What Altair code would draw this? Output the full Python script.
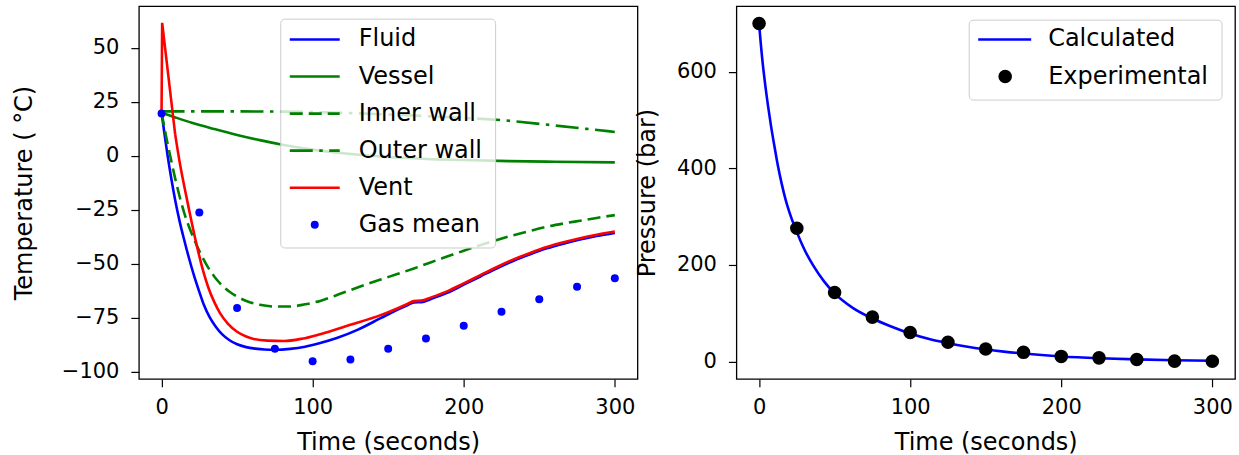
import altair as alt
import pandas as pd

FONT = "DejaVu Sans"
BLUE, GREEN, RED = "#0000ff", "#008000", "#ff0000"
LW = 2.6

# ---------------- temperature panel ----------------
fluid_t = [0, 2, 4, 6.5, 9, 12, 15, 18, 21.5, 25, 28, 32, 36, 40, 45, 50, 56, 62, 68, 75, 85, 95,
           105, 116, 130, 145, 156, 163, 167, 172, 178, 189, 200, 211, 222, 233, 244, 255, 266, 277,
           288, 300]
fluid_T = [20, 9.8, 0, -10.8, -20.5, -30.5, -39, -47, -55.5, -63, -69, -75, -79.3, -82.6, -85.4,
           -87.3, -88.6, -89.3, -89.7, -89.8, -89.4, -88.4, -86.7, -84.4, -80.5, -75.2, -71.3,
           -69.1, -67.9, -67.8, -66.4, -63.5, -59.7, -55.9, -52.1, -48.6, -45.6, -42.9, -40.7,
           -38.8, -37.2, -35.8]

vessel_t = [0, 5, 10, 20, 35, 50, 65, 80, 100, 120, 145, 175, 200, 230, 260, 300]
vessel_T = [20, 18.7, 17.5, 15.2, 12.3, 9.6, 7.2, 5.1, 2.8, 1.1, -0.4, -1.5, -2.0, -2.5, -2.8, -3.1]

inner_t = [0, 3, 6, 9, 12, 15, 18.5, 22, 26, 30, 35, 40, 45, 50, 57, 65, 75, 85, 95, 105, 115,
           125, 135, 145, 156, 167, 178, 189, 200, 211, 222, 233, 244, 255, 266, 277, 288, 300]
inner_T = [20, 9, -1, -10.5, -19, -26.5, -33.5, -39.5, -45.5, -50.8, -56, -60, -63, -65.2, -67.5,
           -69, -69.8, -69.8, -68.8, -67.2, -64.8, -62.2, -59.7, -57.3, -54.8, -52.2, -49.4,
           -46.7, -44, -41.4, -39, -36.8, -34.8, -32.9, -31.4, -30.1, -28.8, -27.5]

outer_t = [0, 50, 100, 130, 160, 190, 226, 260, 300]
outer_T = [20.5, 20.5, 20.2, 19.6, 18.8, 17.8, 16.4, 14.0, 11.0]

# the vent starts with a short spike, then follows a smooth curve
vent_spike_t = [0, 0.4, 9]
vent_spike_T = [20, 61.5, 10]
vent_t = [9, 12, 15, 18.5, 22, 25, 28, 31, 35, 39, 44, 50, 56, 61, 70, 81, 93, 105, 125, 145, 156,
          163, 167, 172, 178, 189, 200, 211, 222, 233, 244, 255, 266, 277, 288, 300]
vent_T = [10, -3, -14, -26, -37.5, -46.5, -54.5, -61.1, -67.9, -73.2, -77.8, -81.5, -83.7, -84.8,
          -85.6, -85.8, -84.7, -82.6, -78.3, -73.8, -70.7, -68.5, -67.3, -67.1, -65.7, -62.8,
          -59.1, -55.3, -51.5, -48.0, -45.0, -42.3, -40.1, -38.2, -36.6, -35.1]

gas_t = [0, 25, 50, 75, 100, 125, 150, 175, 200, 225, 250, 275, 300]
gas_T = [19.5, -26.3, -70.5, -89.4, -95.1, -94.3, -89.4, -84.6, -78.7, -72.2, -66.4, -60.7, -56.7]

# ---------------- pressure panel ----------------
calc_t = [0, 2, 4, 6, 8, 10, 12.5, 15, 17.5, 20, 25, 30, 36, 43, 50, 62, 75, 87, 100, 112, 125,
          137, 150, 162, 175, 187, 200, 225, 250, 275, 300]
calc_p = [700, 630, 575, 528, 486, 449, 405, 368, 336, 310, 268, 232, 198, 166, 141, 111, 89, 73,
          58, 47, 38, 31, 25, 20.5, 16.5, 13.3, 10.5, 6.8, 4.3, 2.7, 1.7]

exp_t = [0, 25, 50, 75, 100, 125, 150, 175, 200, 225, 250, 275, 300]
exp_p = [700, 276, 143, 92, 60, 40, 26, 19, 10.5, 7.6, 4.2, 0.7, 0.5]

temp_labels = ["Fluid", "Vessel", "Inner wall", "Outer wall", "Vent", "Gas mean"]
press_labels = ["Calculated", "Experimental"]


def long_frame(pairs):
    rows = []
    for name, ts, vs in pairs:
        for i, (t, v) in enumerate(zip(ts, vs)):
            rows.append({"series": name, "t": t, "v": v, "idx": i})
    return pd.DataFrame(rows)


temp_df = long_frame([
    ("Fluid", fluid_t, fluid_T),
    ("Vessel", vessel_t, vessel_T),
    ("Inner wall", inner_t, inner_T),
    ("Outer wall", outer_t, outer_T),
    ("Vent spike", vent_spike_t, vent_spike_T),
    ("Vent", vent_t, vent_T),
    ("Gas mean", gas_t, gas_T),
])
press_df = long_frame([
    ("Calculated", calc_t, calc_p),
    ("Experimental", exp_t, exp_p),
])

W, H = 499, 373
one = pd.DataFrame({"k": [0]})

x_axis = alt.Axis(values=[0, 100, 200, 300], title="Time (seconds)", titleX=W / 2, titleY=71,
                  titleBaseline="alphabetic", titleAlign="center")

tx = alt.X("t:Q", scale=alt.Scale(domain=[-15, 315], nice=False, zero=False), axis=x_axis)
ty = alt.Y("v:Q", scale=alt.Scale(domain=[-103.3, 69.2], nice=False, zero=False),
           axis=alt.Axis(values=[-100, -75, -50, -25, 0, 25, 50], title="Temperature ( °C)",
                         titleX=-114, titleY=H / 2, titleAngle=-90, titleBaseline="middle",
                         titleAlign="center", labelExpr="replace(datum.label, '-', '−')"))

px = alt.X("t:Q", scale=alt.Scale(domain=[-15, 315], nice=False, zero=False), axis=x_axis)
py = alt.Y("v:Q", scale=alt.Scale(domain=[-36, 736], nice=False, zero=False),
           axis=alt.Axis(values=[0, 200, 400, 600], title="Pressure (bar)",
                         titleX=-89, titleY=H / 2, titleAngle=-90, titleBaseline="middle",
                         titleAlign="center"))

# line styles: colour, dash pattern
DASHED = [13, 6]
DASHDOT = [23, 6.5, 3.5, 6.5]
temp_styles = {
    "Fluid": (BLUE, None),
    "Vessel": (GREEN, None),
    "Inner wall": (GREEN, DASHED),
    "Outer wall": (GREEN, DASHDOT),
    "Vent": (RED, None),
}


def line(df, name, color, dash, x, y, interp="monotone"):
    kw = dict(color=color, strokeWidth=LW, interpolate=interp, clip=True)
    if dash:
        kw["strokeDash"] = dash
    return (alt.Chart(df).transform_filter(alt.datum.series == name)
            .mark_line(**kw).encode(x=x, y=y, order="idx:Q"))


def points(df, name, color, size, x, y):
    return (alt.Chart(df).transform_filter(alt.datum.series == name)
            .mark_circle(color=color, size=size, opacity=1, clip=True).encode(x=x, y=y))


temp_layers = [
    line(temp_df, "Fluid", BLUE, None, tx, ty),
    line(temp_df, "Vessel", GREEN, None, tx, ty),
    line(temp_df, "Inner wall", GREEN, DASHED, tx, ty),
    line(temp_df, "Outer wall", GREEN, DASHDOT, tx, ty),
    line(temp_df, "Vent spike", RED, None, tx, ty, interp="linear"),
    line(temp_df, "Vent", RED, None, tx, ty),
    points(temp_df, "Gas mean", BLUE, 64, tx, ty),
]

# legend box for the temperature panel
temp_layers.append(
    alt.Chart(one).mark_rect(fill="white", fillOpacity=0.8, stroke="#cccccc", strokeWidth=1,
                             cornerRadius=4)
    .encode(x=alt.value(142), x2=alt.value(357), y=alt.value(13), y2=alt.value(242))
)
for i, name in enumerate(temp_labels):
    yy = 33.3 + i * 37.1
    if name in temp_styles:
        color, dash = temp_styles[name]
        kw = dict(color=color, strokeWidth=LW)
        if dash:
            kw["strokeDash"] = dash
        temp_layers.append(alt.Chart(one).mark_rule(**kw).encode(
            x=alt.value(151), x2=alt.value(201), y=alt.value(yy)))
    else:
        temp_layers.append(alt.Chart(one).mark_circle(color=BLUE, size=64, opacity=1).encode(
            x=alt.value(176), y=alt.value(yy)))
    temp_layers.append(alt.Chart(one).mark_text(text=name, align="left", baseline="middle",
                                                font=FONT, fontSize=24, color="black").encode(
        x=alt.value(220), y=alt.value(yy)))

temp_chart = alt.layer(*temp_layers).properties(width=W, height=H)

press_layers = [
    line(press_df, "Calculated", BLUE, None, px, py),
    points(press_df, "Experimental", "black", 185, px, py),
    alt.Chart(one).mark_rect(fill="white", fillOpacity=0.8, stroke="#cccccc", strokeWidth=1,
                             cornerRadius=4)
    .encode(x=alt.value(233), x2=alt.value(486), y=alt.value(14), y2=alt.value(94)),
    alt.Chart(one).mark_rule(color=BLUE, strokeWidth=LW).encode(
        x=alt.value(242), x2=alt.value(295), y=alt.value(33.3)),
    alt.Chart(one).mark_circle(color="black", size=185, opacity=1).encode(
        x=alt.value(269), y=alt.value(70.4)),
]
for i, name in enumerate(press_labels):
    press_layers.append(alt.Chart(one).mark_text(text=name, align="left", baseline="middle",
                                                 font=FONT, fontSize=24, color="black").encode(
        x=alt.value(312), y=alt.value(33.3 + i * 37.1)))

press_chart = alt.layer(*press_layers).properties(width=W, height=H)

chart = (
    alt.hconcat(temp_chart, press_chart, spacing=99, bounds="flush")
    .properties(padding={"left": 12, "top": 5, "right": 3, "bottom": 0})
    .configure_view(stroke="black", strokeWidth=1.3)
    .configure_axis(
        grid=False, domain=False, ticks=True, tickColor="black", tickWidth=1.2, tickSize=8,
        labelFont=FONT, labelFontSize=21, labelColor="black",
        titleFont=FONT, titleFontSize=24, titleFontWeight="normal", titleColor="black",
    )
    .configure_axisX(labelBaseline="alphabetic", labelPadding=27)
    .configure_axisY(labelPadding=12)
)

chart.save("out.html", embed_options={"renderer": "svg", "actions": False})
